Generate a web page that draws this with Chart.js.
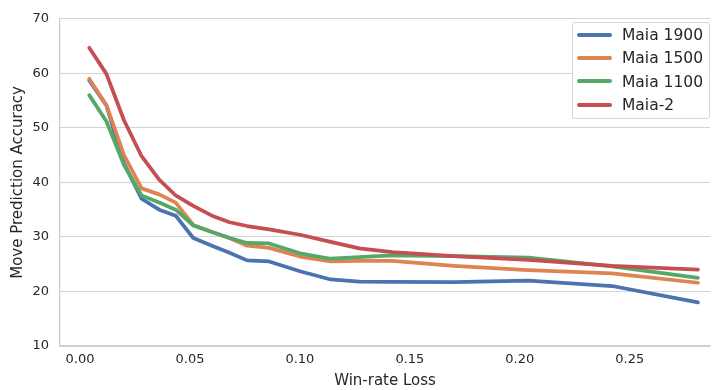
<!DOCTYPE html>
<html>
<head>
<meta charset="utf-8">
<script src="https://cdn.jsdelivr.net/npm/chart.js@4/dist/chart.umd.min.js"></script>
<style>
    body { margin: 0; background: #ffffff; }
    .wrap { position: relative; width: 712px; height: 390px; }
    .custom-legends {
        position: absolute; left: 572px; top: 22px; width: 136px; height: 95px;
        margin: 0; padding: 0; list-style: none;
        border: 1px solid #d6d6d6; border-radius: 3px; background: rgba(255,255,255,0.85);
        font-family: "DejaVu Sans", sans-serif; font-size: 15.5px; color: #262626;
    }
    .custom-legends li { position: absolute; left: 0; height: 18px; line-height: 18px; white-space: nowrap; }
    .custom-legends .dot { display: inline-block; width: 35px; height: 4px; border-radius: 2px; vertical-align: middle; margin: 0 10px 0 4px; position: relative; top: -1px; }
</style>
</head>
<body>
<div class="wrap">
    <canvas id="chartAccuracy" width="712" height="390"></canvas>
    <ul class="custom-legends" id="legendAccuracy"></ul>
</div>
<script>
const lossBins = [0.0042, 0.012, 0.020, 0.028, 0.036, 0.0435, 0.0515, 0.060, 0.068, 0.076, 0.086, 0.100, 0.114, 0.127, 0.142, 0.170, 0.204, 0.242, 0.281];
const maia1900 = [58.7, 54.1, 43.5, 37.0, 35.0, 33.9, 29.8, 28.4, 27.1, 25.7, 25.5, 23.7, 22.2, 21.8, 21.75, 21.7, 22.0, 21.0, 18.0];
const maia1500 = [59.0, 54.2, 45.0, 38.9, 37.8, 36.3, 32.2, 30.9, 29.8, 28.4, 28.0, 26.4, 25.5, 25.6, 25.6, 24.7, 23.9, 23.3, 21.6];
const maia1100 = [56.0, 51.2, 43.2, 37.6, 36.3, 35.0, 32.1, 30.9, 29.8, 28.9, 28.8, 27.0, 26.0, 26.3, 26.6, 26.5, 26.2, 24.6, 22.5];
const maia2 = [64.7, 59.9, 51.4, 44.8, 40.5, 37.6, 35.7, 33.9, 32.7, 32.0, 31.4, 30.4, 29.1, 27.9, 27.2, 26.5, 25.8, 24.7, 24.0];
const xTicks = [0.00, 0.05, 0.10, 0.15, 0.20, 0.25];
const yTicks = [10, 20, 30, 40, 50, 60, 70];

const seriesNames = ['Maia 1900', 'Maia 1500', 'Maia 1100', 'Maia-2'];
const seriesValues = [maia1900, maia1500, maia1100, maia2];
const seriesColors = ['#4c72b0', '#dd8452', '#55a868', '#c44e52'];

Chart.defaults.font.family = '"DejaVu Sans", sans-serif';
Chart.defaults.color = '#262626';

function buildDatasets() {
    let sets = [];
    for (let i = 0; i < seriesNames.length; i++) {
        sets.push({
            label: seriesNames[i],
            data: lossBins.map((x, j) => ({ x: x, y: seriesValues[i][j] })),
            borderColor: seriesColors[i],
            backgroundColor: seriesColors[i],
            borderWidth: 3.75,
            borderCapStyle: 'round',
            borderJoinStyle: 'round',
            pointRadius: 0,
            tension: 0,
            order: seriesNames.length - i
        });
    }
    return sets;
}

let chartCanvas = document.getElementById('chartAccuracy');
let chartAccuracy = new Chart(chartCanvas, {
    type: 'line',
    data: { datasets: buildDatasets() },
    options: {
        responsive: false,
        animation: false,
        layout: { padding: { top: 14, right: 2, left: 0, bottom: 0 } },
        plugins: { legend: { display: false }, tooltip: { enabled: false } },
        scales: {
            x: {
                type: 'linear',
                min: -0.0091,
                max: 0.2865,
                afterBuildTicks: (axis) => { axis.ticks = xTicks.map(v => ({ value: v })); },
                afterFit: (axis) => { axis.height = 44; },
                grid: { display: false, drawTicks: false },
                border: { display: true, color: '#cccccc', width: 1.25 },
                ticks: { padding: 6, font: { size: 13 }, callback: (v) => v.toFixed(2) },
                title: { display: true, text: 'Win-rate Loss', font: { size: 15 }, padding: { top: 0, bottom: 0 } }
            },
            y: {
                min: 10,
                max: 70,
                afterBuildTicks: (axis) => { axis.ticks = yTicks.map(v => ({ value: v })); },
                afterFit: (axis) => { axis.width = 60; },
                grid: { color: '#d4d4d4', lineWidth: 1, drawTicks: false },
                border: { display: true, color: '#cccccc', width: 1.25 },
                ticks: { padding: 11, font: { size: 13 } },
                title: { display: true, text: 'Move Prediction Accuracy', font: { size: 15 }, padding: { top: 9, bottom: 0 } }
            }
        }
    }
});

/* legend drawn as html inside the plot */
let elem = [];
for (let i = 0; i < seriesNames.length; i++) {
    elem.push('<li style="top:' + (3 + i * 23.4) + 'px"><span class="dot" style="background-color:' + seriesColors[i] + '"></span>' + seriesNames[i] + '</li>');
}
document.getElementById('legendAccuracy').innerHTML = elem.join('');
</script>
</body>
</html>
